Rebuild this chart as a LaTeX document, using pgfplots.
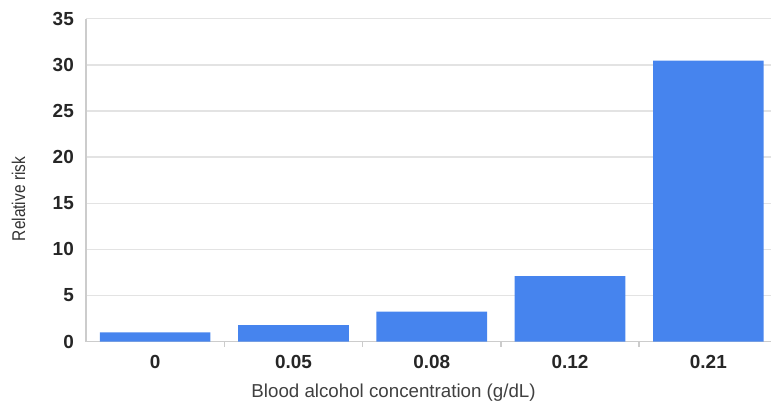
\documentclass[border=0pt]{standalone}
\usepackage{fontspec}
\setmainfont{Liberation Sans}
\newfontfamily\narrowfont[FakeStretch=0.84]{Liberation Sans}
\usepackage{pgfplots}
\pgfplotsset{compat=1.18}
\definecolor{barblue}{HTML}{4684EE}
\definecolor{gridc}{HTML}{E3E3E3}
\definecolor{axisc}{HTML}{CCCCCC}
\begin{document}
\begin{tikzpicture}[x=1bp,y=1bp]
\begin{axis}[
  at={(0,0)}, anchor=south west,
  scale only axis, width=685bp, height=323bp,
  xmin=-0.5, xmax=4.453, ymin=0, ymax=35,
  ytick={0,5,...,35},
  xtick={0,1,2,3,4}, xticklabels={0,0.05,0.08,0.12,0.21},
  axis x line=bottom, axis y line=left,
  axis line style={-, axisc, line width=1.5bp},
  ymajorgrids, major grid style={gridc, line width=1.5bp},
  major tick length=0pt,
  extra x ticks={0.5,1.5,2.5,3.5}, extra x tick labels={},
  extra x tick style={major tick length=5bp, tick align=outside, tick style={axisc, line width=1.5bp}, grid=none},
  ticklabel style={font=\fontsize{19}{19}\selectfont\bfseries, color=black!85},
  /pgf/number format/assume math mode=true,
  yticklabel style={anchor=east, inner sep=0pt, xshift=-12bp},
  xticklabel style={anchor=north, inner sep=0pt, yshift=-13bp},
  xlabel={Blood alcohol concentration (g/dL)},
  xlabel style={at={(axis description cs:0.449,-0.130)}, anchor=north, inner sep=0pt, font=\fontsize{18.8}{18.8}\selectfont, color=black!75},
  ylabel={Relative risk},
  ylabel style={at={(axis description cs:-0.1085,0.4418)}, anchor=north, inner sep=0pt, font=\narrowfont\fontsize{18.5}{18.5}\selectfont, color=black!80},
]
\addplot[ybar, fill=barblue, draw=none, bar width=0.8] coordinates {(0,1.0) (1,1.8) (2,3.25) (3,7.1) (4,30.45)};
\end{axis}
\pgfresetboundingbox
\path[use as bounding box] (-86,-63.3) rectangle (685,341.7);
\end{tikzpicture}
\end{document}
